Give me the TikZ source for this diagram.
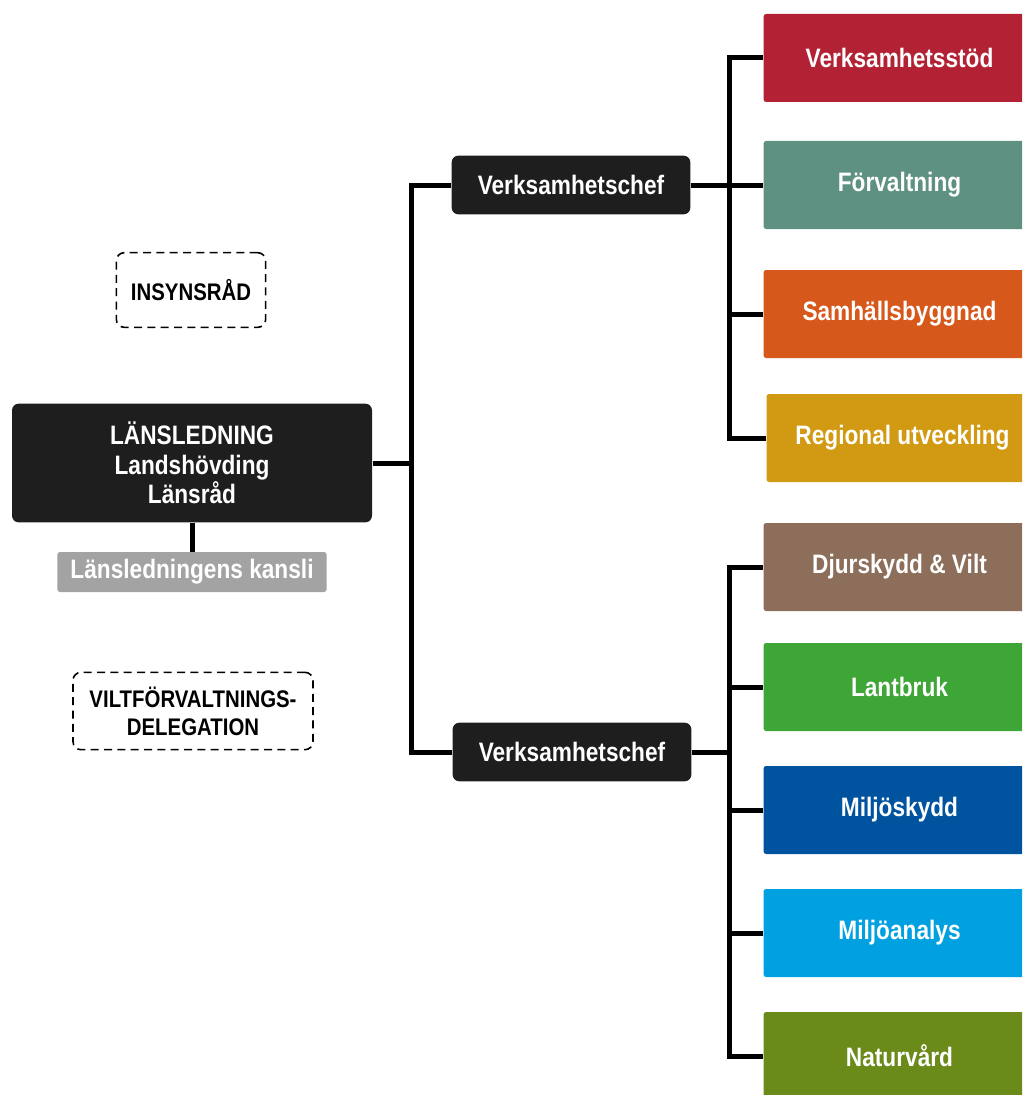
\documentclass[tikz,border=0pt]{standalone}
\usepackage{fontspec}
\setmainfont{Liberation Sans}[FakeStretch=0.85]
\usetikzlibrary{positioning}

\definecolor{boxblack}{RGB}{30,30,30}
\definecolor{kansligray}{RGB}{163,163,163}
\definecolor{stodred}{RGB}{178,34,52}
\definecolor{forvteal}{RGB}{95,145,130}
\definecolor{samhorange}{RGB}{214,88,26}
\definecolor{reggold}{RGB}{209,154,18}
\definecolor{djurbrown}{RGB}{140,110,90}
\definecolor{lantgreen}{RGB}{61,166,55}
\definecolor{miljblue}{RGB}{0,83,159}
\definecolor{analblue}{RGB}{0,160,225}
\definecolor{naturolive}{RGB}{106,138,26}

\tikzset{every picture/.style={line width=0.75pt}}
\tikzset{
  boxfont/.style={font=\bfseries\fontsize{20}{22}\selectfont},
  chefbox/.style={boxfont, fill=boxblack, text=white, rounded corners=5pt, inner sep=0pt, minimum width=179pt, minimum height=44pt, align=center},
  unitbox/.style={boxfont, fill=#1, text=white, rounded corners=2pt, inner sep=0pt, minimum width=204pt, minimum height=66pt, anchor=west},
  dashbox/.style={font=\bfseries\fontsize{18}{21}\selectfont, draw=black, text=black, dash pattern=on 6pt off 4pt, line width=1.2pt, rounded corners=6pt, inner sep=0pt, align=center},
  link/.style={line width=3.75pt, draw=black}
}

\begin{document}
\begin{tikzpicture}[x=0.75pt,y=0.75pt,yscale=-1,xscale=1]
\useasboundingbox (0,0) rectangle (1022,1095);
\clip (0,0) rectangle (1022,1095);

% Left side
\node [dashbox, minimum width=112pt, minimum height=56pt] (insyn) at (191,290) {INSYNSRÅD};
\node [chefbox, minimum width=270pt, minimum height=89pt] (lans) at (192,463) {LÄNSLEDNING\\Landshövding\\Länsråd};
\node [boxfont, fill=kansligray, text=white, rounded corners=2pt, inner sep=0pt, minimum width=202pt, minimum height=30pt] (kansli) at (192,572) {Länsledningens kansli};
\node [dashbox, minimum width=180pt, minimum height=58pt] (vilt) at (193,711) {VILTFÖRVALTNINGS-\\DELEGATION};

% Verksamhetschef
\node [chefbox] (chefa) at (571,185) {Verksamhetschef};
\node [chefbox] (chefb) at (572,752) {Verksamhetschef};

% Units
\node [unitbox=stodred] (stod) at (763,58) {Verksamhetsstöd};
\node [unitbox=forvteal] (forv) at (763,185) {Förvaltning};
\node [unitbox=samhorange] (samh) at (763,314) {Samhällsbyggnad};
\node [unitbox=reggold] (reg) at (766,438) {Regional utveckling};
\node [unitbox=djurbrown] (djur) at (763,567) {Djurskydd \& Vilt};
\node [unitbox=lantgreen] (lant) at (763,687) {Lantbruk};
\node [unitbox=miljblue] (milj) at (763,810) {Miljöskydd};
\node [unitbox=analblue] (anal) at (763,933) {Miljöanalys};
\node [unitbox=naturolive] (natur) at (763,1056) {Naturvård};

% Trunks
\coordinate (tr) at (411,463);
\coordinate (ra) at (729,185);
\coordinate (rb) at (729,752);

%Straight Lines
\draw [link] (lans.south) -- (kansli.north);
\draw [link] (lans.east) -- (tr);
\draw [link] (chefa.west) -- (chefa.west -| tr) |- (chefb.west);

\draw [link] (stod.west) -| (ra |- reg.west) -- (reg.west);
\draw [link] (chefa.east) -- (forv.west);
\draw [link] (samh.west) -- (ra |- samh.west);

\draw [link] (djur.west) -| (rb |- natur.west) -- (natur.west);
\draw [link] (chefb.east) -- (rb);
\draw [link] (lant.west) -- (rb |- lant.west);
\draw [link] (milj.west) -- (rb |- milj.west);
\draw [link] (anal.west) -- (rb |- anal.west);

\end{tikzpicture}
\end{document}
